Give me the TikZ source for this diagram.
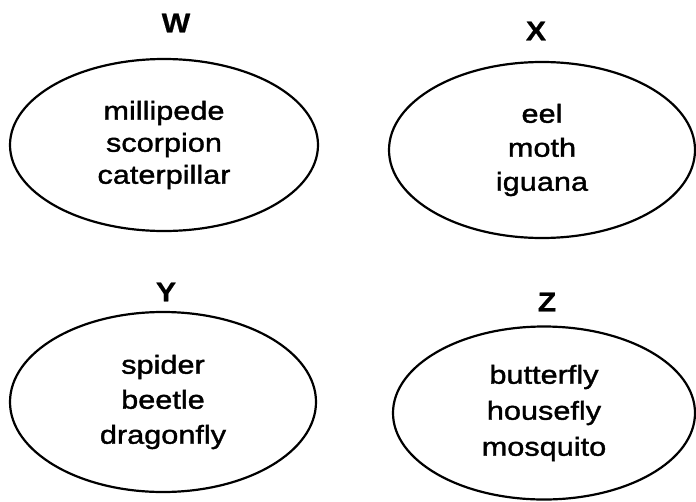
\documentclass[tikz,border=0pt]{standalone}
\usepackage{fontspec}
\setmainfont{Liberation Sans}
\newfontfamily\itemfont[FakeStretch=1.18,FakeBold=1.4]{Liberation Sans}
\newfontfamily\labelfont[FakeStretch=1.12,FakeBold=0.6]{Liberation Sans Bold}
\usetikzlibrary{shapes.geometric}
\begin{document}
\begin{tikzpicture}[x=1pt,y=-1pt,
  setshape/.style={ellipse, draw, line width=2.2pt, inner sep=0pt, align=center,
    font=\itemfont\fontsize{26}{#1}\selectfont},
  setshape/.default=33,
  setlabel/.style={inner sep=0pt, font=\labelfont\fontsize{27}{30}\selectfont}]
\useasboundingbox (0,0) rectangle (696,501);
\node[setshape=32, minimum width=308pt, minimum height=172pt] (W) at (164,145) {millipede\\scorpion\\caterpillar};
\node[setshape=34, minimum width=306pt, minimum height=176pt] (X) at (542,150) {eel\\moth\\iguana};
\node[setshape=35, minimum width=306pt, minimum height=180pt] (Y) at (163,402) {spider\\beetle\\dragonfly};
\node[setshape=36, minimum width=302pt, minimum height=173pt] (Z) at (544,413) {butterfly\\housefly\\mosquito};
\node[setlabel] (Wl) at (176,23) {W};
\node[setlabel] (Xl) at (536,31) {X};
\node[setlabel] (Yl) at (166,292) {Y};
\node[setlabel] (Zl) at (547,302) {Z};
\end{tikzpicture}
\end{document}
